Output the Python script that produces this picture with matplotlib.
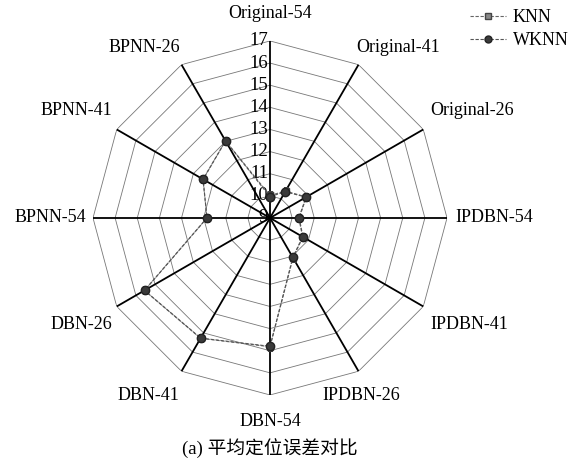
import numpy as np
import matplotlib.pyplot as plt
from matplotlib.lines import Line2D

plt.rcParams['font.family'] = ['Liberation Serif', 'Noto Sans CJK SC']

# 数据
categorias = ['Original-54', 'Original-41', 'Original-26', 'IPDBN-54', 'IPDBN-41', 'IPDBN-26',
              'DBN-54', 'DBN-41', 'DBN-26', 'BPNN-54', 'BPNN-41', 'BPNN-26']
knn = [10.02, 10.40, 10.90, 10.32, 10.72, 11.08, 14.82, 15.28, 15.55, 11.85, 12.50, 13.02]
wknn = [9.96, 10.37, 10.88, 10.30, 10.70, 11.06, 14.80, 15.27, 15.55, 11.85, 12.49, 13.02]
niveles = [9, 10, 11, 12, 13, 14, 15, 16, 17]
titulo = '(a) 平均定位误差对比'

n = len(categorias)
ang = np.linspace(0, 2 * np.pi, n, endpoint=False)
ang_c = np.append(ang, ang[0])

fig = plt.figure(figsize=(5.78, 4.61), dpi=100)
ax = fig.add_axes([0.1609, 0.1432, 0.6125, 0.768], projection='polar')
ax.set_theta_offset(np.pi / 2)
ax.set_theta_direction(-1)
ax.set_ylim(9, 17)
ax.grid(False)
ax.spines['polar'].set_visible(False)
ax.set_xticks([])
ax.set_yticks([])

# rejilla poligonal
for nv in niveles[1:]:
    ax.plot(ang_c, [nv] * (n + 1), color='#777777', lw=0.6, zorder=1)
# ejes radiales
for a in ang:
    ax.plot([a, a], [9, 17], color='black', lw=1.3, zorder=2)

# etiquetas de la escala
for nv in niveles:
    ax.annotate(str(nv), xy=(0, nv), xytext=(-2, 0), textcoords='offset pixels',
                ha='right', va='center', fontsize=13.5)

# series
ax.plot(ang_c, np.append(knn, knn[0]), ls='--', dashes=(3, 1.5), color='#666666', lw=0.8,
        marker='s', ms=4, mfc='#888888', mec='#444444', zorder=3)
ax.plot(ang_c, np.append(wknn, wknn[0]), ls='--', dashes=(3, 1.5), color='#555555', lw=0.8,
        marker='o', ms=6, mfc='#3a3a3a', mec='#222222', zorder=4)

# etiquetas de categorias
offs = [(0, 19, 'center', 'bottom'), (-2, 17, 'left', 'center'), (7, 19, 'left', 'center'),
        (8, 0, 'left', 'center'), (7, -18, 'left', 'center'), (3, -24, 'center', 'center'),
        (0, -27, 'center', 'center'), (-2, -24, 'right', 'center'), (-4, -18, 'right', 'center'),
        (-7, 0, 'right', 'center'), (-4, 19, 'right', 'center'), (-1, 17, 'right', 'center')]
for a, c, (dx, dy, ha, va) in zip(ang, categorias, offs):
    ax.annotate(c, xy=(a, 17), xytext=(dx, dy), textcoords='offset pixels',
                ha=ha, va=va, fontsize=13, annotation_clip=False)

# leyenda
h1 = Line2D([], [], ls='--', dashes=(3, 1.5), color='#666666', lw=0.8, marker='s', ms=4,
            mfc='#888888', mec='#444444')
h2 = Line2D([], [], ls='--', dashes=(3, 1.5), color='#555555', lw=0.8, marker='o', ms=5,
            mfc='#3a3a3a', mec='#222222')
fig.legend([h1, h2], ['KNN', 'WKNN'], loc='upper right', bbox_to_anchor=(1.012, 1.016),
           frameon=False, fontsize=13, handlelength=2.0, handletextpad=0.4, labelspacing=0.35)

fig.text(0.467, 0.028, titulo, ha='center', va='center', fontsize=13.5)

plt.savefig('out.png', dpi=100)
